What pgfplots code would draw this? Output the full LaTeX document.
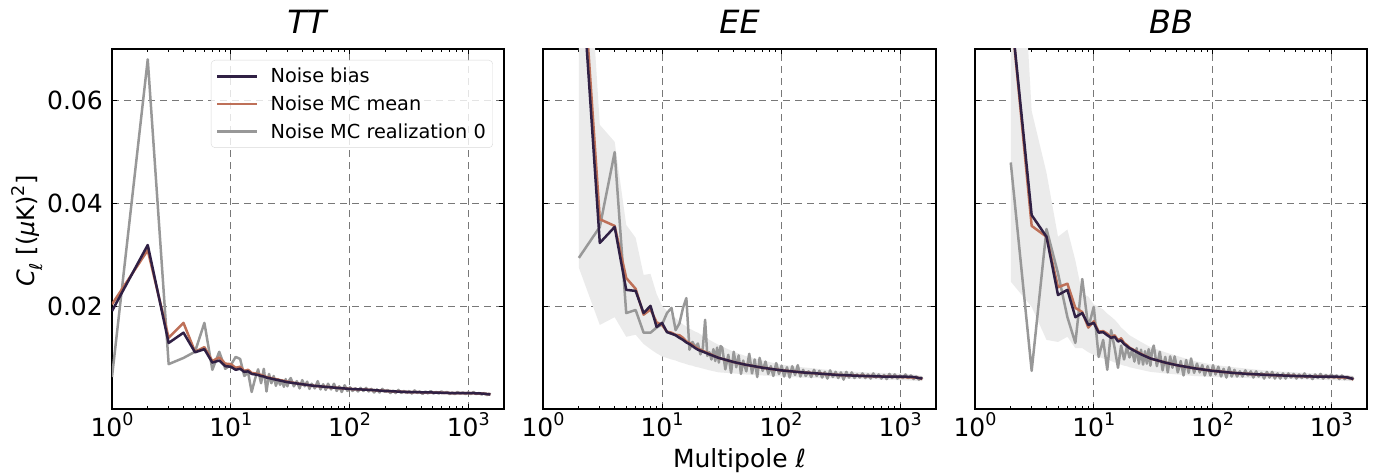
\documentclass[border=0pt]{standalone}
\usepackage{fontspec}
\setmainfont{DejaVu Sans}
\usepackage{pgfplots}
\pgfplotsset{compat=1.18}
\usepackage{pgfplotstable}

\definecolor{cbias}{RGB}{48,32,68}
\definecolor{cmean}{RGB}{190,112,88}
\definecolor{creal}{RGB}{152,152,152}
\definecolor{cband}{RGB}{235,235,235}
\definecolor{cgrid}{RGB}{120,120,120}

\newcommand{\sups}[1]{\raisebox{0.42em}{\fontsize{17.5}{17.5}\selectfont #1}}

% ---------------- TT ----------------
\pgfplotstableread{
l bias mean
1 0.0192 0.0205
2 0.0320 0.0310
3 0.0130 0.0140
4 0.0150 0.0169
5 0.0112 0.0113
6 0.0118 0.0122
7 0.0092 0.0095
8 0.0096 0.0102
9 0.0085 0.0090
10 0.0084 0.0089
11 0.0078 0.0082
12 0.0080 0.0084
13 0.0074 0.0076
14 0.0075 0.0078
15 0.0070 0.0072
16 0.0069 0.0071
17 0.0068 0.0070
18 0.0066 0.0068
19 0.0065 0.0066
20 0.0063 0.0064
25 0.0058 0.0059
30 0.0054 0.0055
40 0.0050 0.0050
50 0.0047 0.0047
70 0.0044 0.0044
100 0.0041 0.0041
150 0.0039 0.0039
200 0.0037 0.0037
300 0.0035 0.0035
500 0.0034 0.0034
700 0.0033 0.0033
1000 0.0033 0.0033
1300 0.0032 0.0032
1450 0.0031 0.0031
1535 0.0030 0.0031
}\TTs

\pgfplotstableread{
l real
1 0.0064
2 0.0680
3 0.0089
4 0.0101
5 0.0113
6 0.0169
7 0.0078
8 0.0113
9 0.0080
10 0.0087
11 0.0103
12 0.0099
13 0.0066
14 0.0073
15 0.0035
16 0.0060
17 0.0079
18 0.0052
19 0.0080
20 0.0036
21 0.0070
22 0.0052
23 0.0066
24 0.0047
25 0.0060
26 0.0049
27 0.0058
28 0.0045
29 0.0060
30 0.0046
31 0.0057
32 0.0062
34 0.0046
36 0.0056
38 0.0042
40 0.0058
42 0.0046
44 0.0055
46 0.0041
48 0.0051
51 0.0042
54 0.0056
57 0.0040
60 0.0050
63 0.0039
66 0.0051
70 0.0040
74 0.0051
78 0.0037
82 0.0046
86 0.0035
91 0.0048
96 0.0037
101 0.0044
106 0.0037
112 0.0042
118 0.0036
124 0.0043
131 0.0037
138 0.0043
145 0.0036
153 0.0041
161 0.0034
170 0.0040
179 0.0034
189 0.0041
199 0.0035
210 0.0039
221 0.0033
233 0.0038
245 0.0033
258 0.0039
272 0.0033
287 0.0037
302 0.0033
318 0.0037
335 0.0032
353 0.0038
372 0.0033
392 0.0036
413 0.0031
435 0.0036
458 0.0032
483 0.0037
509 0.0032
536 0.0035
565 0.0032
595 0.0036
627 0.0033
660 0.0035
695 0.0031
732 0.0034
771 0.0031
812 0.0035
855 0.0032
901 0.0034
949 0.0031
1000 0.0034
1053 0.0031
1109 0.0035
1168 0.0031
1230 0.0033
1296 0.0030
1365 0.0033
1438 0.0029
1500 0.0032
1535 0.0030
}\TTr

% ---------------- EE ----------------
\pgfplotstableread{
l bias mean
2 0.0930 0.0970
3 0.0324 0.0370
4 0.0355 0.0357
5 0.0233 0.0256
6 0.0231 0.0235
7 0.0188 0.0185
8 0.0202 0.0195
9 0.0161 0.0170
10 0.0169 0.0165
11 0.0151 0.0152
12 0.0148 0.0150
13 0.0145 0.0146
14 0.0140 0.0145
15 0.0136 0.0140
16 0.0131 0.0133
17 0.0128 0.0130
18 0.0124 0.0126
19 0.0120 0.0122
20 0.0117 0.0119
25 0.0108 0.0109
30 0.0101 0.0101
40 0.0093 0.0093
50 0.0088 0.0088
70 0.0082 0.0082
100 0.0077 0.0077
150 0.0073 0.0073
200 0.0071 0.0071
300 0.0068 0.0068
500 0.0066 0.0066
700 0.0065 0.0065
1000 0.0065 0.0064
1300 0.0064 0.0063
1450 0.0062 0.0062
1535 0.0061 0.0060
}\EEs

% band outline: lower edge forward, upper edge backward
\pgfplotstableread{
l y
2 0.0276
3 0.0165
4 0.0180
5 0.0142
6 0.0146
7 0.0128
8 0.0118
9 0.0110
10 0.0104
11 0.0101
12 0.0098
13 0.0096
14 0.0093
15 0.0091
16 0.0089
17 0.0087
18 0.0086
19 0.0084
20 0.0083
25 0.0077
30 0.0073
40 0.0071
50 0.0069
70 0.0067
100 0.0065
150 0.0063
200 0.0062
300 0.0061
500 0.0060
700 0.0059
1000 0.0058
1300 0.0057
1450 0.0056
1535 0.0056
1535 0.0066
1450 0.0067
1300 0.0069
1000 0.0071
700 0.0072
500 0.0073
300 0.0076
200 0.0080
150 0.0083
100 0.0088
70 0.0096
50 0.0105
40 0.0113
30 0.0126
25 0.0136
20 0.0150
19 0.0152
18 0.0155
17 0.0158
16 0.0162
15 0.0166
14 0.0172
13 0.0178
12 0.0185
11 0.0192
10 0.0202
9 0.0225
8 0.0264
7 0.0262
6 0.0334
5 0.0359
4 0.0520
3 0.0553
2 0.1200
}\EEb

\pgfplotstableread{
l real
2 0.0295
3 0.0355
4 0.0500
5 0.0188
6 0.0194
7 0.0150
8 0.0150
9 0.0160
10 0.0166
11 0.0188
12 0.0198
13 0.0155
14 0.0168
15 0.0198
16 0.0217
17 0.0117
18 0.0132
19 0.0122
20 0.0129
21 0.0108
22 0.0120
23 0.0175
24 0.0105
25 0.0112
26 0.0098
27 0.0118
28 0.0095
29 0.0121
30 0.0092
31 0.0124
32 0.0121
34 0.0079
36 0.0107
38 0.0072
40 0.0113
42 0.0083
44 0.0106
46 0.0070
48 0.0096
51 0.0075
54 0.0109
57 0.0071
60 0.0098
63 0.0064
66 0.0101
70 0.0076
74 0.0094
78 0.0070
82 0.0085
86 0.0066
91 0.0091
96 0.0070
101 0.0086
106 0.0065
112 0.0083
118 0.0063
124 0.0085
131 0.0068
138 0.0087
145 0.0065
153 0.0078
161 0.0066
170 0.0075
179 0.0064
189 0.0078
199 0.0066
210 0.0076
221 0.0063
233 0.0074
245 0.0061
258 0.0077
272 0.0064
287 0.0074
302 0.0062
318 0.0073
335 0.0059
353 0.0074
372 0.0063
392 0.0073
413 0.0062
435 0.0069
458 0.0063
483 0.0071
509 0.0062
536 0.0069
565 0.0061
595 0.0071
627 0.0063
660 0.0069
695 0.0061
732 0.0068
771 0.0060
812 0.0070
855 0.0062
901 0.0069
949 0.0061
1000 0.0067
1053 0.0062
1109 0.0069
1168 0.0062
1230 0.0067
1296 0.0060
1365 0.0065
1438 0.0059
1500 0.0063
1535 0.0060
}\EEr

% ---------------- BB ----------------
\pgfplotstableread{
l bias mean
2 0.0780 0.0780
3 0.0378 0.0357
4 0.0336 0.0336
5 0.0223 0.0238
6 0.0233 0.0245
7 0.0180 0.0198
8 0.0188 0.0190
9 0.0165 0.0160
10 0.0169 0.0172
11 0.0150 0.0152
12 0.0151 0.0153
13 0.0145 0.0148
14 0.0140 0.0141
15 0.0142 0.0145
16 0.0133 0.0135
17 0.0135 0.0139
18 0.0128 0.0130
19 0.0124 0.0126
20 0.0120 0.0121
25 0.0108 0.0109
30 0.0100 0.0100
40 0.0092 0.0092
50 0.0087 0.0087
70 0.0081 0.0081
100 0.0076 0.0076
150 0.0072 0.0072
200 0.0070 0.0070
300 0.0068 0.0068
500 0.0066 0.0066
700 0.0065 0.0065
1000 0.0065 0.0064
1300 0.0064 0.0063
1450 0.0062 0.0062
1535 0.0060 0.0059
}\BBs

\pgfplotstableread{
l y
2 0.0249
3 0.0200
4 0.0136
5 0.0132
6 0.0142
7 0.0120
8 0.0120
9 0.0112
10 0.0107
11 0.0103
12 0.0100
13 0.0097
14 0.0095
15 0.0092
16 0.0090
17 0.0088
18 0.0086
19 0.0085
20 0.0083
25 0.0078
30 0.0074
40 0.0071
50 0.0069
70 0.0066
100 0.0064
150 0.0063
200 0.0062
300 0.0061
500 0.0060
700 0.0059
1000 0.0058
1300 0.0057
1450 0.0056
1535 0.0056
1535 0.0066
1450 0.0067
1300 0.0068
1000 0.0070
700 0.0071
500 0.0073
300 0.0076
200 0.0080
150 0.0083
100 0.0088
70 0.0095
50 0.0105
40 0.0112
30 0.0122
25 0.0132
20 0.0145
19 0.0150
18 0.0155
17 0.0160
16 0.0168
15 0.0175
14 0.0181
13 0.0187
12 0.0195
11 0.0200
10 0.0205
9 0.0220
8 0.0225
7 0.0290
6 0.0350
5 0.0336
4 0.0460
3 0.0580
2 0.1300
}\BBb

\pgfplotstableread{
l real
2 0.0480
3 0.0076
4 0.0351
5 0.0265
6 0.0180
7 0.0130
8 0.0254
9 0.0160
10 0.0200
11 0.0103
12 0.0136
13 0.0078
14 0.0155
15 0.0120
16 0.0082
17 0.0125
18 0.0098
19 0.0122
20 0.0102
21 0.0116
22 0.0094
23 0.0120
24 0.0090
25 0.0117
26 0.0088
27 0.0114
28 0.0090
29 0.0118
30 0.0086
31 0.0115
32 0.0125
34 0.0085
36 0.0113
38 0.0077
40 0.0103
42 0.0073
44 0.0104
46 0.0082
48 0.0104
51 0.0073
54 0.0095
57 0.0067
60 0.0097
63 0.0072
66 0.0100
70 0.0072
74 0.0090
78 0.0073
82 0.0087
86 0.0067
91 0.0085
96 0.0067
101 0.0087
106 0.0069
112 0.0084
118 0.0065
124 0.0080
131 0.0063
138 0.0083
145 0.0065
153 0.0078
161 0.0065
170 0.0075
179 0.0065
189 0.0077
199 0.0067
210 0.0075
221 0.0063
233 0.0075
245 0.0065
258 0.0072
272 0.0061
287 0.0074
302 0.0063
318 0.0074
335 0.0061
353 0.0071
372 0.0061
392 0.0071
413 0.0061
435 0.0071
458 0.0063
483 0.0070
509 0.0061
536 0.0069
565 0.0062
595 0.0071
627 0.0062
660 0.0068
695 0.0060
732 0.0069
771 0.0062
812 0.0070
855 0.0061
901 0.0068
949 0.0062
1000 0.0069
1053 0.0062
1109 0.0067
1168 0.0060
1230 0.0067
1296 0.0060
1365 0.0065
1438 0.0060
1500 0.0063
1535 0.0059
}\BBr

\pgfplotsset{
  legend image code/.code={\draw[#1] (0pt,0pt) -- (40pt,0pt);},
}

\begin{document}
\begin{tikzpicture}
\useasboundingbox (-112pt,-63pt) rectangle (1269pt,409pt);

% TT
\begin{axis}[at={(0pt,0pt)}, anchor=south west,
    scale only axis, width=392pt, height=360pt,
    xmode=log, xmin=1, xmax=2000, ymin=0.0002, ymax=0.07,
    scaled y ticks=false,
    xtick={1,10,100,1000},
    xticklabels={10\sups{0},10\sups{1},10\sups{2},10\sups{3}},
    minor xtick={2,3,4,5,6,7,8,9,20,30,40,50,60,70,80,90,200,300,400,500,600,700,800,900,2000},
    ytick={0.02,0.04,0.06},
    yticklabels={0.02,0.04,0.06},
    tick align=inside,
    major tick length=5pt, minor tick length=3pt,
    tick style={black, line width=0.9pt},
    axis line style={black, line width=1.1pt},
    xmajorgrids, ymajorgrids,
    major grid style={cgrid, line width=0.9pt, dash pattern=on 7pt off 5pt},
    xticklabel style={font=\fontsize{25}{25}\selectfont, anchor=base, inner sep=0pt, yshift=-27pt},
    yticklabel style={font=\fontsize{25}{25}\selectfont, anchor=east, inner sep=0pt, xshift=-9pt},
    title style={font=\fontsize{32}{32}\selectfont, at={(0.5,1)}, anchor=base, yshift=9pt},
  title={\textit{TT}},
  ylabel={\textit{C}\raisebox{-0.3em}{\fontsize{17.5}{17.5}\selectfont\textit{ℓ}}\ [(\textit{μ}K)\sups{2}]},
  ylabel style={font=\fontsize{24}{24}\selectfont, at={(0,0.494)}, anchor=base, yshift=77pt},
  reverse legend,
  legend style={at={(1,1)}, anchor=north east, xshift=-11pt, yshift=-11pt,
    draw=black!15, rounded corners=4pt, fill=white, fill opacity=0.8, text opacity=1,
    font=\fontsize{19.3}{19.3}\selectfont, inner xsep=5pt, inner ysep=6pt,
    row sep=7.5pt, column sep=10pt},
  legend cell align=left,
]
\addplot[creal, line width=2.5pt, line join=round] table[x=l, y=real] {\TTr};
\addlegendentry{Noise MC realization 0}
\addplot[cmean, line width=2.5pt, line join=round] table[x=l, y=mean] {\TTs};
\addlegendentry{Noise MC mean}
\addplot[cbias, line width=2.5pt, line join=round] table[x=l, y=bias] {\TTs};
\addlegendentry{Noise bias}
\end{axis}

% EE
\begin{axis}[at={(431pt,0pt)}, anchor=south west,
    scale only axis, width=393pt, height=360pt,
    xmode=log, xmin=1, xmax=2000, ymin=0.0002, ymax=0.07,
    scaled y ticks=false,
    xtick={1,10,100,1000},
    xticklabels={10\sups{0},10\sups{1},10\sups{2},10\sups{3}},
    minor xtick={2,3,4,5,6,7,8,9,20,30,40,50,60,70,80,90,200,300,400,500,600,700,800,900,2000},
    ytick={0.02,0.04,0.06},
    yticklabels={},
    tick align=inside,
    major tick length=5pt, minor tick length=3pt,
    tick style={black, line width=0.9pt},
    axis line style={black, line width=1.1pt},
    xmajorgrids, ymajorgrids,
    major grid style={cgrid, line width=0.9pt, dash pattern=on 7pt off 5pt},
    xticklabel style={font=\fontsize{25}{25}\selectfont, anchor=base, inner sep=0pt, yshift=-27pt},
    title style={font=\fontsize{32}{32}\selectfont, at={(0.5,1)}, anchor=base, yshift=9pt},
  title={\textit{EE}},
  xlabel={Multipole \textit{ℓ}},
  xlabel style={font=\fontsize{25}{25}\selectfont, at={(0.5,0)}, anchor=base, yshift=-58pt},
]
\addplot[fill=cband, draw=none] table[x=l, y=y] {\EEb} -- cycle;
\addplot[creal, line width=2.5pt, line join=round] table[x=l, y=real] {\EEr};
\addplot[cmean, line width=2.5pt, line join=round] table[x=l, y=mean] {\EEs};
\addplot[cbias, line width=2.5pt, line join=round] table[x=l, y=bias] {\EEs};
\end{axis}

% BB
\begin{axis}[at={(863pt,0pt)}, anchor=south west,
    scale only axis, width=392pt, height=360pt,
    xmode=log, xmin=1, xmax=2000, ymin=0.0002, ymax=0.07,
    scaled y ticks=false,
    xtick={1,10,100,1000},
    xticklabels={10\sups{0},10\sups{1},10\sups{2},10\sups{3}},
    minor xtick={2,3,4,5,6,7,8,9,20,30,40,50,60,70,80,90,200,300,400,500,600,700,800,900,2000},
    ytick={0.02,0.04,0.06},
    yticklabels={},
    tick align=inside,
    major tick length=5pt, minor tick length=3pt,
    tick style={black, line width=0.9pt},
    axis line style={black, line width=1.1pt},
    xmajorgrids, ymajorgrids,
    major grid style={cgrid, line width=0.9pt, dash pattern=on 7pt off 5pt},
    xticklabel style={font=\fontsize{25}{25}\selectfont, anchor=base, inner sep=0pt, yshift=-27pt},
    title style={font=\fontsize{32}{32}\selectfont, at={(0.5,1)}, anchor=base, yshift=9pt},
  title={\textit{BB}},
]
\addplot[fill=cband, draw=none] table[x=l, y=y] {\BBb} -- cycle;
\addplot[creal, line width=2.5pt, line join=round] table[x=l, y=real] {\BBr};
\addplot[cmean, line width=2.5pt, line join=round] table[x=l, y=mean] {\BBs};
\addplot[cbias, line width=2.5pt, line join=round] table[x=l, y=bias] {\BBs};
\end{axis}
\end{tikzpicture}
\end{document}
